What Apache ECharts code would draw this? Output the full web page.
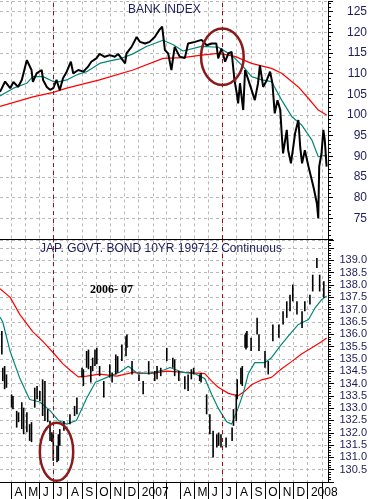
<!DOCTYPE html>
<html><head><meta charset="utf-8">
<script src="https://cdn.jsdelivr.net/npm/echarts@6/dist/echarts.min.js"></script>
<style>html,body{margin:0;padding:0;background:#fff}#c{width:371px;height:499px}</style>
</head><body><div id="c"></div>
<script>
// ---------- DATA ----------
const monthTicks = ['2006-04-01','2006-05-01','2006-06-01','2006-07-01','2006-08-01','2006-09-01','2006-10-01','2006-11-01','2006-12-01','2007-01-01','2007-02-01','2007-03-01','2007-04-01','2007-05-01','2007-06-01','2007-07-01','2007-08-01','2007-09-01','2007-10-01','2007-11-01','2007-12-01','2008-01-01','2008-02-01'];
const monthLabels = ['A','M','J','J','A','S','O','N','D','2007','','','A','M','J','J','A','S','O','N','D','2008',''];

const bankDates = ['2006-03-08','2006-03-19','2006-03-30','2006-04-06','2006-04-16','2006-04-24','2006-05-05','2006-05-15','2006-05-18','2006-05-26','2006-06-06','2006-06-09','2006-06-17','2006-06-24','2006-07-01','2006-07-08','2006-07-15','2006-07-22','2006-07-30','2006-08-08','2006-08-13','2006-08-24','2006-09-04','2006-09-14','2006-09-21','2006-10-02','2006-10-09','2006-10-20','2006-10-31','2006-11-11','2006-11-18','2006-12-03','2006-12-06','2006-12-17','2006-12-28','2007-01-04','2007-01-15','2007-01-25','2007-02-05','2007-02-15','2007-02-21','2007-02-27','2007-03-06','2007-03-13','2007-03-20','2007-03-31','2007-04-11','2007-04-18','2007-05-03','2007-05-17','2007-05-28','2007-06-08','2007-06-18','2007-06-22','2007-06-29','2007-07-07','2007-07-14','2007-07-21','2007-07-27','2007-08-01','2007-08-04','2007-08-08','2007-08-15','2007-08-19','2007-08-26','2007-09-02','2007-09-09','2007-09-16','2007-09-20','2007-09-27','2007-10-05','2007-10-12','2007-10-17','2007-10-22','2007-10-28','2007-11-03','2007-11-06','2007-11-09','2007-11-17','2007-11-20','2007-11-26','2007-12-01','2007-12-05','2007-12-12','2007-12-16','2007-12-20','2007-12-26','2008-01-03','2008-01-10','2008-01-15','2008-01-21','2008-01-24','2008-01-26','2008-01-31','2008-02-04','2008-02-07','2008-02-11'];
const bankValues = [105.6,108.1,106.5,108,106.8,108.5,113.3,110.9,108,110.1,110.9,108.5,106.8,106.1,106.5,108.5,106,108.9,110.5,112.9,110.1,110.9,110.5,111.7,112.9,113.7,114.8,114.1,114.5,114.1,114.8,112.5,114.9,116.5,118.9,117.7,117.3,117.7,118.9,120.6,121.4,115.7,114.9,110.9,116.5,114.1,113.8,117.3,117.7,118.2,116.9,117.3,117.3,113.7,116.1,112.9,114.9,115.3,108.5,105.3,102.8,107.7,101.2,110.9,108.5,106.1,103.6,107.7,112.1,106.8,108.5,110.5,107.7,100.4,103.6,101.2,95.6,90.7,96.4,91.5,88.3,92.3,95.6,98.8,92.3,88.3,91.5,87.5,84.3,81.9,78.6,75,87.5,90.7,96.4,94,87.5];

const bankMaShortDates = ['2006-03-08','2006-04-06','2006-05-05','2006-05-18','2006-06-09','2006-07-01','2006-07-15','2006-07-30','2006-08-20','2006-09-11','2006-10-09','2006-10-31','2006-11-22','2006-12-20','2007-01-18','2007-02-23','2007-03-17','2007-04-07','2007-05-17','2007-06-22','2007-07-21','2007-08-15','2007-09-02','2007-09-24','2007-10-15','2007-11-06','2007-11-28','2007-12-19','2008-01-10','2008-01-24','2008-02-11'];
const bankMaShort = [104.6,106.5,107.7,109.3,109.3,108.1,108.1,108.5,109.7,110.5,112.5,113.1,113.6,114.8,116.6,118.1,117.0,115.5,116.6,116.4,114.5,111.7,109.3,108.5,108.1,103.6,99.6,97.6,94.0,89.9,90.3];

const bankMaLongDates = ['2006-03-08','2006-05-18','2006-07-01','2006-07-30','2006-10-09','2006-12-20','2007-02-23','2007-04-07','2007-05-17','2007-06-22','2007-07-28','2007-09-02','2007-10-15','2007-11-06','2007-12-12','2008-01-03','2008-01-24','2008-02-11'];
const bankMaLong = [102.1,104.4,105.5,106.5,108.5,110.9,113.7,113.9,114.5,114.9,114.2,112.5,111.3,110.1,106.8,104.0,101.2,100.0];

const bondDates = ['2006-03-12','2006-03-14','2006-03-18','2006-03-22','2006-04-02','2006-04-05','2006-04-13','2006-04-17','2006-04-24','2006-04-28','2006-05-05','2006-05-11','2006-05-15','2006-05-22','2006-05-27','2006-06-02','2006-06-08','2006-06-13','2006-06-19','2006-06-24','2006-06-28','2006-07-01','2006-07-09','2006-07-12','2006-07-15','2006-07-24','2006-08-06','2006-08-16','2006-08-21','2006-09-01','2006-09-04','2006-09-11','2006-09-15','2006-09-20','2006-09-24','2006-09-29','2006-10-03','2006-10-09','2006-10-18','2006-10-31','2006-11-05','2006-11-13','2006-11-17','2006-11-26','2006-12-05','2006-12-07','2006-12-18','2007-01-02','2007-01-11','2007-01-23','2007-02-05','2007-02-10','2007-02-18','2007-03-03','2007-03-16','2007-03-20','2007-03-29','2007-04-11','2007-04-18','2007-04-25','2007-04-30','2007-05-13','2007-05-16','2007-05-28','2007-06-04','2007-06-11','2007-06-19','2007-06-23','2007-06-28','2007-07-09','2007-07-22','2007-07-25','2007-07-31','2007-08-02','2007-08-10','2007-08-13','2007-08-19','2007-08-21','2007-08-23','2007-09-01','2007-09-14','2007-09-18','2007-10-01','2007-10-08','2007-10-18','2007-10-31','2007-11-09','2007-11-17','2007-11-24','2007-11-30','2007-12-09','2007-12-20','2007-12-26','2008-01-06','2008-01-12','2008-01-21','2008-01-27','2008-02-05'];
const bondHigh = [136.13,134.64,134.71,134.37,133.56,133.49,132.89,132.83,133.24,133.02,132.83,132.35,132.43,133.83,133.90,133.70,134.17,134.10,132.96,132.48,132.02,131.94,131.47,131.94,132.15,132.48,132.75,133.09,133.43,134.64,134.58,135.32,135.38,134.71,135.05,135.38,135.45,134.71,134.10,134.78,134.45,135.18,135.11,135.59,135.92,135.99,134.91,134.37,134.10,134.91,134.51,134.71,134.64,135.45,135.05,134.98,134.51,134.30,134.37,134.58,134.64,134.37,134.44,133.56,132.75,132.08,131.94,132.01,131.94,131.81,132.21,132.96,133.56,134.17,134.64,134.71,135.99,136.06,136.13,135.86,136.67,135.99,135.32,134.91,136.40,136.40,136.94,137.34,137.61,138.02,137.34,136.94,137.34,137.61,138.42,139.10,138.42,138.15];
const bondLow = [135.18,134.10,133.77,133.83,133.02,132.96,132.21,132.43,132.15,131.94,132.02,131.67,131.62,133.02,133.36,133.29,132.68,132.48,132.43,131.67,131.62,130.86,130.80,130.86,131.47,132.08,132.35,132.68,132.75,134.24,133.90,134.64,134.58,134.04,134.51,134.71,134.78,134.30,133.43,134.24,134.04,134.37,134.44,134.91,135.11,135.45,134.37,134.10,133.56,134.37,134.10,134.17,134.30,134.91,134.64,134.30,134.10,133.77,133.70,134.17,134.37,134.10,134.04,132.75,131.94,131.00,131.40,131.47,131.40,131.40,131.67,132.28,132.48,133.36,133.97,133.90,135.45,135.38,135.45,135.32,135.99,135.32,134.64,134.37,135.72,135.86,136.40,136.67,136.94,137.34,136.80,136.26,136.94,137.21,137.74,138.69,137.74,137.48];

const bondMaShortDates = ['2006-03-08','2006-03-14','2006-03-30','2006-04-20','2006-05-11','2006-06-02','2006-06-24','2006-07-12','2006-07-30','2006-08-20','2006-09-11','2006-09-30','2006-10-31','2006-11-22','2006-12-10','2006-12-31','2007-01-25','2007-02-25','2007-03-10','2007-04-07','2007-05-03','2007-05-24','2007-06-08','2007-06-22','2007-07-10','2007-07-21','2007-08-04','2007-08-15','2007-08-26','2007-09-09','2007-10-01','2007-10-15','2007-11-06','2007-11-28','2007-12-12','2008-01-03','2008-01-17','2008-01-31','2008-02-11'];
const bondMaShort = [136.7,136.5,135.3,134.2,133.35,133.25,132.9,132.5,132.35,132.5,133.4,134.05,134.3,134.47,134.7,134.4,134.42,134.55,134.65,134.45,134.4,134.2,133.55,133.0,132.45,132.35,133.0,133.6,134.4,134.85,134.85,135.05,135.6,136.1,136.4,136.6,137.07,137.4,137.55];

const bondMaLongDates = ['2006-03-08','2006-03-30','2006-04-20','2006-05-18','2006-06-09','2006-07-01','2006-07-22','2006-08-09','2006-08-24','2006-09-11','2006-10-09','2006-11-15','2006-12-20','2007-01-25','2007-03-03','2007-04-11','2007-05-24','2007-06-08','2007-06-22','2007-07-14','2007-08-04','2007-08-19','2007-09-02','2007-09-24','2007-10-15','2007-11-06','2007-11-28','2007-12-19','2008-01-10','2008-01-31','2008-02-11'];
const bondMaLong = [137.85,137.5,136.8,136.1,135.7,135.25,134.8,134.5,134.27,134.3,134.38,134.3,134.45,134.4,134.5,134.45,134.4,134.1,133.85,133.6,133.5,133.7,133.95,134.15,134.25,134.6,134.9,135.2,135.45,135.7,135.85];

const markerDates = ['2006-07-01','2007-07-01'];
// annotation ellipses: centre date, centre value, half-width (days), half-height (value units)
const ellipseTop = ['2007-07-01', 114.1, 46, 6.85];
const ellipseBottom = ['2006-07-08', 131.23, 36, 1.18];

const titleTop = 'BANK INDEX';
const titleBottom = 'JAP. GOVT. BOND 10YR 199712 Continuous';
const subTitle = '2006- 07';

// ---------- CHART ----------
const ts = s => +new Date(s + 'T00:00:00Z');
const zip = (a, b) => a.map((d, i) => [ts(d), b[i]]);
const xMin = ts('2006-03-08'), xMax = ts('2008-02-14');
const tickTs = monthTicks.map(ts);
const labelMap = {}; tickTs.forEach((t, i) => labelMap[t] = monthLabels[i]);

const gridCol = '#b9b9b9';
const navy = '#1d1d5c';
const font = 'Liberation Sans, Arial, sans-serif';

function xAxis(gi, showLabels) {
  return {
    type: 'value', gridIndex: gi, min: xMin, max: xMax, scale: true,
    axisLine: { show: true, onZero: false, lineStyle: { color: '#000', width: 1 } },
    axisTick: { show: showLabels, customValues: tickTs, length: 17, lineStyle: { color: '#000' } },
    axisLabel: showLabels ? {
      show: true, customValues: tickTs, align: 'left', margin: 5,
      formatter: v => labelMap[v] ? ' ' + labelMap[v] : '', color: '#000', fontSize: 12, fontFamily: font
    } : { show: false, customValues: tickTs },
    splitLine: { show: true, lineStyle: { color: gridCol, type: [3, 3], width: 1 } }
  };
}
function yAxis(gi, min, max, interval, fmt, fs, majLen) {
  return {
    type: 'value', gridIndex: gi, position: 'right', min, max, interval,
    axisLine: { show: true, lineStyle: { color: '#000' } },
    axisTick: { show: true, length: majLen, lineStyle: { color: '#000' } },
    minorTick: { show: true, splitNumber: 5, length: 3, lineStyle: { color: '#000' } },
    axisLabel: { align: 'right', margin: 39, formatter: fmt, color: navy, fontSize: fs, fontFamily: font },
    splitLine: { show: true, lineStyle: { color: gridCol, type: [3, 3], width: 1 } }
  };
}
const topFmt = v => (v >= 75 && v <= 125 && Math.abs(v / 5 - Math.round(v / 5)) < 1e-6) ? String(Math.round(v)) : '';
const botFmt = v => (v >= 130.49 && v <= 139.01 && Math.abs(v * 2 - Math.round(v * 2)) < 1e-6) ? v.toFixed(1) : '';

const markLine = {
  silent: true, symbol: 'none', label: { show: false },
  lineStyle: { color: '#9a1010', type: [4, 4], width: 1 },
  data: markerDates.map(d => ({ xAxis: ts(d) }))
};

const chart = echarts.init(document.getElementById('c'), null, { renderer: 'canvas' });
chart.setOption({
  animation: false,
  backgroundColor: '#fff',
  title: [
    { text: titleTop, left: 128, top: 4, padding: 0, textStyle: { fontSize: 12, fontWeight: 'normal', color: navy, fontFamily: font } },
    { text: titleBottom, left: 40, top: 243, padding: 0, textStyle: { fontSize: 12, fontWeight: 'normal', color: navy, fontFamily: font } },
    { text: subTitle, left: 90, top: 284, padding: 0, textStyle: { fontSize: 12, fontWeight: 'bold', color: '#000', fontFamily: 'Liberation Serif, Times New Roman, serif' } }
  ],
  grid: [
    { left: 0, right: 43, top: 1.4, height: 237.6 },
    { left: 0, right: 43, top: 240, height: 242.7 }
  ],
  xAxis: [xAxis(0, false), xAxis(1, true)],
  yAxis: [
    yAxis(0, 70, 127.5, 5, topFmt, 12, 5),
    yAxis(1, 130, 139.83, 0.5, botFmt, 11, 6)
  ],
  series: [
    { type: 'line', xAxisIndex: 0, yAxisIndex: 0, data: zip(bankMaLongDates, bankMaLong), showSymbol: false, lineStyle: { color: '#ff0000', width: 1.2 }, z: 2 },
    { type: 'line', xAxisIndex: 0, yAxisIndex: 0, data: zip(bankMaShortDates, bankMaShort), showSymbol: false, lineStyle: { color: '#00877a', width: 1.2 }, z: 3 },
    { type: 'line', xAxisIndex: 0, yAxisIndex: 0, data: zip(bankDates, bankValues), showSymbol: false, lineStyle: { color: '#000', width: 2 }, z: 4, markLine },
    { type: 'line', xAxisIndex: 1, yAxisIndex: 1, data: zip(bondMaLongDates, bondMaLong), showSymbol: false, lineStyle: { color: '#ff0000', width: 1.2 }, z: 2 },
    { type: 'line', xAxisIndex: 1, yAxisIndex: 1, data: zip(bondMaShortDates, bondMaShort), showSymbol: false, lineStyle: { color: '#00877a', width: 1.2 }, z: 3 },
    {
      type: 'custom', xAxisIndex: 1, yAxisIndex: 1, z: 4,
      data: bondDates.map((d, i) => [ts(d), bondHigh[i], bondLow[i]]),
      encode: { x: 0, y: [1, 2] },
      renderItem: (params, api) => {
        const hi = api.coord([api.value(0), api.value(1)]);
        const lo = api.coord([api.value(0), api.value(2)]);
        return { type: 'line', shape: { x1: hi[0], y1: hi[1], x2: lo[0], y2: lo[1] }, style: { stroke: '#000', lineWidth: 1.6 } };
      },
      markLine
    }
  ]
});

function ellipse(gi, e) {
  const c = chart.convertToPixel({ gridIndex: gi }, [ts(e[0]), e[1]]);
  const r = chart.convertToPixel({ gridIndex: gi }, [ts(e[0]) + e[2] * 864e5, e[1] + e[3]]);
  return { type: 'ellipse', silent: true, z: 100, shape: { cx: c[0], cy: c[1], rx: Math.abs(r[0] - c[0]), ry: Math.abs(c[1] - r[1]) }, style: { fill: null, stroke: '#8b1a1a', lineWidth: 2.5 } };
}
chart.setOption({ graphic: [ellipse(0, ellipseTop), ellipse(1, ellipseBottom)] });
</script></body></html>
